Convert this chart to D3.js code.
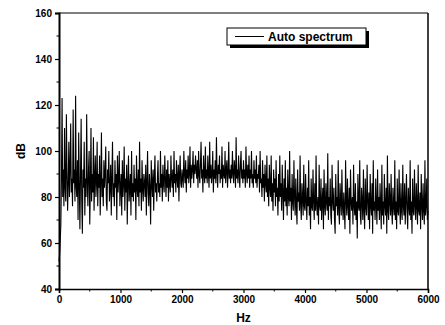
<!DOCTYPE html>
<html>
<head>
<meta charset="utf-8">
<script src="https://cdn.jsdelivr.net/npm/d3@7"></script>
<style>
  body { margin: 0; background: #fff; }
  text { font-family: "Liberation Sans", Arial, sans-serif; font-weight: bold; fill: #000; }
</style>
</head>
<body>
<svg id="chart"></svg>
<script>
const width = 445, height = 325;

// axis setup
const xDomain = [0, 6000];
const yDomain = [40, 160];
const xTicks = [0, 1000, 2000, 3000, 4000, 5000, 6000];
const yTicks = [40, 60, 80, 100, 120, 140, 160];
const legendLabel = "Auto spectrum";

// auto spectrum in dB, one value every 10 Hz
const freqStep = 10;
const autoSpectrumDb = [
  52, 55, 61, 68, 88, 123, 80, 92, 76, 110, 84, 78, 116, 90, 74, 86, 104, 80, 92, 112,
  82, 88, 76, 118, 86, 92, 78, 124, 84, 80, 96, 70, 108, 86, 66, 90, 114, 78, 64, 92,
  84, 104, 72, 88, 80, 116, 86, 76, 92, 100, 68, 84, 110, 78, 90, 82, 106, 74, 88, 98,
  80, 86, 104, 76, 90, 84, 98, 72, 86, 108, 80, 88, 76, 96, 84, 90, 102, 78, 74, 92,
  86, 100, 78, 84, 94, 72, 88, 104, 80, 86, 76, 96, 84, 90, 70, 98, 82, 88, 100, 76,
  84, 90, 72, 96, 80, 86, 102, 74, 88, 82, 94, 68, 86, 98, 78, 84, 90, 72, 100, 80,
  86, 78, 94, 82, 88, 70, 98, 84, 80, 92, 76, 104, 82, 88, 74, 96, 84, 78, 90, 86,
  80, 94, 72, 86, 100, 82, 76, 90, 84, 68, 96, 86, 80, 92, 74, 88, 98, 82, 86, 78,
  88, 96, 82, 86, 80, 100, 84, 90, 78, 94, 86, 82, 98, 88, 80, 92, 84, 96, 78, 90,
  86, 82, 98, 88, 84, 92, 80, 100, 86, 90, 82, 96, 88, 84, 94, 78, 90, 98, 86, 84,
  92, 88, 84, 100, 90, 86, 96, 82, 92, 88, 98, 86, 90, 102, 84, 94, 88, 92, 100, 86,
  94, 90, 98, 92, 88, 96, 84, 100, 90, 86, 94, 104, 88, 92, 82, 98, 90, 86, 102, 88,
  92, 86, 98, 90, 84, 104, 88, 94, 86, 90, 100, 82, 92, 88, 96, 86, 106, 90, 84, 94,
  90, 98, 86, 92, 88, 102, 84, 94, 90, 88, 100, 86, 92, 96, 84, 90, 104, 88, 92, 86,
  94, 88, 100, 90, 86, 96, 92, 84, 106, 88, 92, 86, 98, 90, 84, 94, 100, 88, 92, 86,
  96, 88, 92, 84, 102, 90, 86, 94, 88, 98, 84, 92, 88, 100, 86, 90, 84, 96, 88, 92,
  86, 98, 84, 90, 88, 94, 82, 100, 86, 88, 80, 96, 84, 90, 78, 94, 86, 82, 98, 80,
  88, 76, 94, 84, 80, 98, 78, 86, 74, 92, 82, 88, 76, 96, 80, 84, 72, 90, 78, 98,
  80, 86, 74, 94, 82, 70, 88, 78, 96, 76, 84, 72, 92, 80, 76, 100, 78, 84, 70, 90,
  78, 74, 96, 80, 72, 88, 76, 68, 92, 78, 82, 74, 98, 76, 70, 86, 80, 72, 94, 76,
  74, 90, 78, 70, 84, 76, 96, 72, 80, 66, 88, 76, 74, 92, 78, 70, 86, 74, 98, 76,
  72, 80, 68, 94, 76, 74, 88, 70, 78, 84, 66, 92, 76, 72, 86, 78, 74, 99, 70, 80,
  76, 88, 72, 68, 94, 78, 74, 84, 70, 64, 90, 76, 80, 72, 96, 74, 68, 86, 78, 72,
  92, 76, 70, 82, 74, 66, 96, 78, 72, 88, 76, 70, 84, 64, 92, 78, 74, 80, 68, 94,
  76, 72, 86, 70, 78, 62, 90, 76, 74, 96, 72, 68, 84, 78, 70, 92, 74, 66, 88, 76,
  72, 94, 78, 70, 82, 66, 90, 76, 72, 86, 64, 96, 74, 78, 70, 88, 76, 68, 92, 74,
  80, 70, 86, 76, 66, 94, 72, 78, 68, 90, 76, 72, 84, 64, 98, 74, 70, 86, 78, 72,
  90, 74, 68, 84, 76, 72, 96, 70, 78, 66, 88, 74, 72, 92, 76, 68, 86, 74, 70, 94,
  76, 72, 86, 68, 78, 90, 74, 66, 84, 76, 72, 96, 70, 78, 64, 88, 74, 72, 92, 76,
  70, 86, 76, 68, 94, 74, 72, 82, 66, 90, 76, 70, 86, 74, 68, 96, 72, 76, 88, 70,
  74
];

const svg = d3.select("#chart")
    .attr("width", width)
    .attr("height", height);

const margin = { left: 59, right: 17, top: 13, bottom: 36 };
const plotW = width - margin.left - margin.right;
const plotH = height - margin.top - margin.bottom;

const x = d3.scaleLinear().domain(xDomain).range([margin.left, margin.left + plotW]);
const y = d3.scaleLinear().domain(yDomain).range([margin.top + plotH, margin.top]);

const data = autoSpectrumDb.map((v, i) => ({ f: i * freqStep, db: v }));

// spectrum line
const line = d3.line()
    .x(d => x(d.f))
    .y(d => y(d.db));

svg.append("path")
    .datum(data)
    .attr("d", line)
    .attr("fill", "none")
    .attr("stroke", "#000")
    .attr("stroke-width", 1.1);

// frame: top and right
svg.append("line")
    .attr("x1", x(0)).attr("x2", x(6000))
    .attr("y1", y(160)).attr("y2", y(160))
    .attr("stroke", "#000").attr("stroke-width", 1.2);
svg.append("line")
    .attr("x1", x(6000)).attr("x2", x(6000))
    .attr("y1", y(160)).attr("y2", y(40))
    .attr("stroke", "#000").attr("stroke-width", 1.5);

// x axis
const xAxis = svg.append("g")
    .attr("transform", `translate(0,${y(40)})`)
    .call(d3.axisBottom(x).tickValues(xTicks).tickSize(4).tickPadding(3).tickFormat(d3.format("d")));
xAxis.append("g").selectAll("line")
    .data(d3.range(500, 6000, 1000))
    .join("line")
    .attr("x1", d => x(d)).attr("x2", d => x(d))
    .attr("y1", 0).attr("y2", 2.5)
    .attr("stroke", "#000");

// y axis
const yAxis = svg.append("g")
    .attr("transform", `translate(${x(0)},0)`)
    .call(d3.axisLeft(y).tickValues(yTicks).tickSize(4).tickPadding(3));
yAxis.append("g").selectAll("line")
    .data(d3.range(50, 160, 20))
    .join("line")
    .attr("y1", d => y(d)).attr("y2", d => y(d))
    .attr("x1", 0).attr("x2", -2.5)
    .attr("stroke", "#000");

[xAxis, yAxis].forEach(g => {
    g.selectAll("text").style("font-size", "10px").style("font-weight", "bold");
    g.selectAll(".tick line").attr("stroke-width", 1.2);
});
xAxis.select(".domain").attr("stroke-width", 1.5);
yAxis.select(".domain").attr("stroke-width", 2);

// axis titles
svg.append("text")
    .attr("x", (x(0) + x(6000)) / 2)
    .attr("y", 322)
    .attr("text-anchor", "middle")
    .style("font-size", "12px")
    .text("Hz");

svg.append("text")
    .attr("transform", `translate(25,${y(100)}) rotate(-90)`)
    .attr("text-anchor", "middle")
    .style("font-size", "12px")
    .text("dB");

// legend with shadow
const lg = svg.append("g").attr("transform", "translate(227,28)");
lg.append("rect")
    .attr("x", 3).attr("y", 3)
    .attr("width", 139).attr("height", 17)
    .attr("fill", "#000");
lg.append("rect")
    .attr("width", 139).attr("height", 17)
    .attr("fill", "#fff")
    .attr("stroke", "#000")
    .attr("stroke-width", 1);
lg.append("line")
    .attr("x1", 8).attr("x2", 37)
    .attr("y1", 8.5).attr("y2", 8.5)
    .attr("stroke", "#000").attr("stroke-width", 1);
lg.append("text")
    .attr("x", 41).attr("y", 13)
    .style("font-size", "12px")
    .text(legendLabel);
</script>
</body>
</html>
